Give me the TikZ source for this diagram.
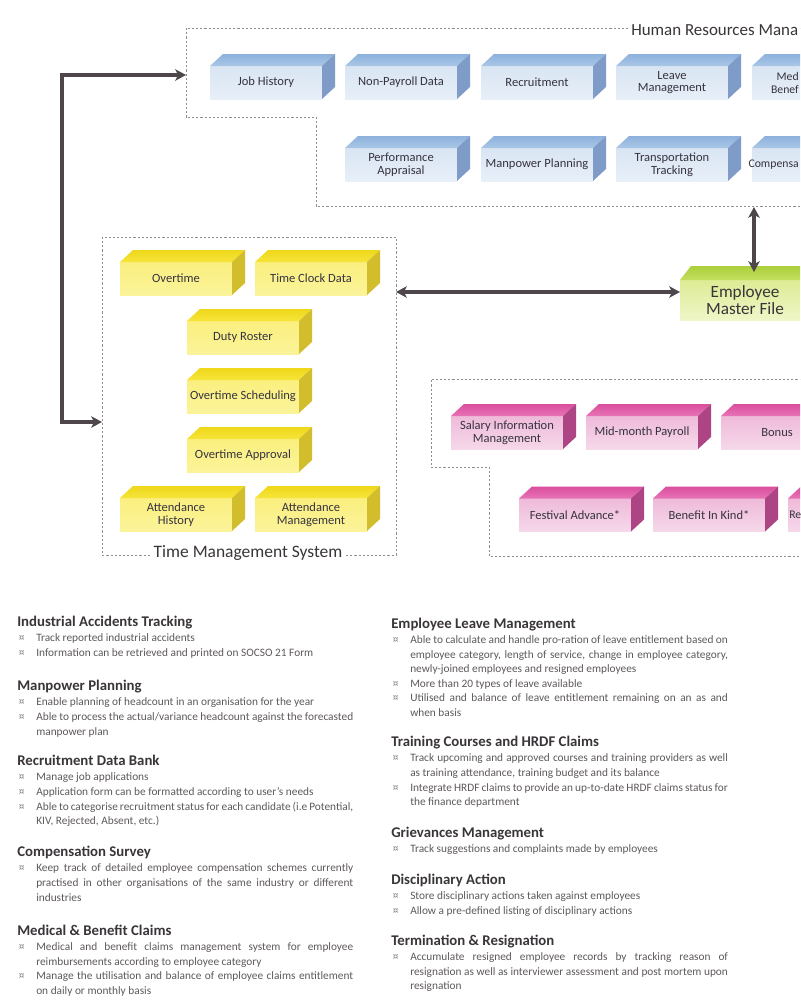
\documentclass[tikz,border=0pt]{standalone}
\usepackage{fontspec}
\setmainfont{Carlito}
\usetikzlibrary{calc,arrows.meta}

\definecolor{hrfrontA}{HTML}{D9E5F3}
\definecolor{hrfrontB}{HTML}{E7EFF8}
\definecolor{hrtopA}{HTML}{8DB1DC}
\definecolor{hrtopB}{HTML}{AAC7E7}
\definecolor{hrside}{HTML}{7E9CC7}
\definecolor{tmfrontA}{HTML}{FAEF7E}
\definecolor{tmfrontB}{HTML}{FBF39A}
\definecolor{tmtopA}{HTML}{EFD81A}
\definecolor{tmtopB}{HTML}{F6E43A}
\definecolor{tmside}{HTML}{D2BE2C}
\definecolor{payfrontA}{HTML}{EEBAD9}
\definecolor{payfrontB}{HTML}{F6D8EA}
\definecolor{paytopA}{HTML}{D94E9E}
\definecolor{paytopB}{HTML}{E873B6}
\definecolor{payside}{HTML}{AD4585}
\definecolor{emffrontA}{HTML}{DDEC95}
\definecolor{emffrontB}{HTML}{EFF6C8}
\definecolor{emftopA}{HTML}{ABCF3C}
\definecolor{emftopB}{HTML}{C3DF5E}
\definecolor{boxtxt}{HTML}{36333F}
\definecolor{headtxt}{HTML}{3A3539}
\definecolor{bodytxt}{HTML}{5E595C}
\definecolor{bullgray}{HTML}{858083}
\definecolor{framegray}{HTML}{8E8E8E}
\definecolor{linkgray}{HTML}{4E464B}

\newcommand{\headline}[1]{{\fontsize{11.1}{13}\selectfont\bfseries\rule{0pt}{11pt}\color{headtxt}#1\par}\vspace{0.3pt}}
\newcommand{\bitem}[1]{\hangindent=14.25pt\hangafter=1\noindent\makebox[14.25pt][l]{\hspace*{1.2pt}\textcolor{bullgray}{¤}}#1\par}

\begin{document}
\begin{tikzpicture}[x=0.75pt,y=-0.75pt,
  cube/.style={minimum width=84pt,minimum height=24.75pt,inner sep=1pt,outer sep=0pt,align=center,font=\fontsize{9.4}{9.6}\selectfont,text=boxtxt},
  hrcube/.style={cube,top color=hrfrontA,bottom color=hrfrontB},
  tmcube/.style={cube,top color=tmfrontA,bottom color=tmfrontB},
  paycube/.style={cube,top color=payfrontA,bottom color=payfrontB},
  cubetxt/.style={inner sep=0pt,anchor=east,align=right,font=\fontsize{8.8}{9.6}\selectfont,text=boxtxt},
  frame/.style={draw=framegray,line width=0.75pt,dash pattern=on 1.6pt off 1.5pt},
  frametitle/.style={fill=white,inner xsep=2.25pt,inner ysep=1pt,font=\fontsize{13.1}{14}\selectfont,text=headtxt},
  link/.style={draw=linkgray,line width=3pt,{Stealth[length=8pt,width=8.5pt,inset=2pt]}-{Stealth[length=8pt,width=8.5pt,inset=2pt]}},
  notes/.style={anchor=north west,inner sep=0pt,text width=252pt,align=justify,text=bodytxt,
    font={\fontsize{8.5}{10.95}\selectfont\hyphenpenalty=10000\tolerance=3000\parskip=0pt}}]

\useasboundingbox (0,0) rectangle (800,1007);
\clip (0,0) rectangle (800,1007);
\fill[white] (0,0) rectangle (800,1007);

\draw[frame] (810,28) -- (186,28) -- (186,117) -- (316,117) -- (316,206) -- (810,206);
\draw[frame] (102,237) rectangle (396,555);
\draw[frame] (810,379) -- (431,379) -- (431,467) -- (489,467) -- (489,556) -- (810,556);

\node[frametitle,anchor=west,font=\fontsize{12.7}{14}\selectfont] (hrtitle) at (628,30) {Human Resources Mana};
\node[frametitle] (tmtitle) at (248,553) {Time Management System};

\node[hrcube] (jobhist) at (266,82.5) {Job History};
\node[hrcube] (nonpay) at (401,82.5) {Non-Payroll Data};
\node[hrcube] (recruit) at (537,82.5) {Recruitment};
\node[hrcube] (leavemgmt) at (672,82.5) {Leave\\Management};
\node[hrcube] (medben) at (808,82.5) {};
\node[hrcube] (perfapp) at (401,164.5) {Performance\\Appraisal};
\node[hrcube] (manpow) at (537,164.5) {Manpower Planning};
\node[hrcube] (transp) at (672,164.5) {Transportation\\Tracking};
\node[hrcube] (compens) at (808,164.5) {};
\node[cubetxt] (medbentxt) at (799,83) {Med\\Benef};
\node[cubetxt] (compenstxt) at (799,165) {Compensa};

\foreach \n in {jobhist,nonpay,recruit,leavemgmt,medben,perfapp,manpow,transp,compens}{
  \shade[top color=hrtopA,bottom color=hrtopB] (\n.north west) -- ++(13,-12) -- ($(\n.north east)+(13,-12)$) -- (\n.north east) -- cycle;
  \fill[hrside] (\n.north east) -- ++(13,-12) -- ($(\n.south east)+(13,-12)$) -- (\n.south east) -- cycle;
}

\node[tmcube] (overtime) at (176,278.5) {Overtime};
\node[tmcube] (clockdata) at (311,278.5) {Time Clock Data};
\node[tmcube] (dutyroster) at (243,337.5) {Duty Roster};
\node[tmcube] (otsched) at (243,396.5) {Overtime Scheduling};
\node[tmcube] (otapprov) at (243,455.5) {Overtime Approval};
\node[tmcube] (atthist) at (176,514.5) {Attendance\\History};
\node[tmcube] (attmgmt) at (311,514.5) {Attendance\\Management};

\foreach \n in {overtime,clockdata,dutyroster,otsched,otapprov,atthist,attmgmt}{
  \shade[top color=tmtopA,bottom color=tmtopB] (\n.north west) -- ++(13,-12) -- ($(\n.north east)+(13,-12)$) -- (\n.north east) -- cycle;
  \fill[tmside] (\n.north east) -- ++(13,-12) -- ($(\n.south east)+(13,-12)$) -- (\n.south east) -- cycle;
}

\node[paycube] (salinfo) at (507,432.5) {Salary Information\\Management};
\node[paycube] (midmonth) at (642,432.5) {Mid-month Payroll};
\node[paycube] (bonus) at (777,432.5) {Bonus};
\node[paycube] (festadv) at (575,515) {Festival Advance*};
\node[paycube] (bik) at (709,515) {Benefit In Kind*};
\node[paycube] (payre) at (844,515) {};
\node[cubetxt,anchor=west] (payretxt) at (789,515) {Re};

\foreach \n in {salinfo,midmonth,bonus,festadv,bik,payre}{
  \shade[top color=paytopA,bottom color=paytopB] (\n.north west) -- ++(13,-12) -- ($(\n.north east)+(13,-12)$) -- (\n.north east) -- cycle;
  \fill[payside] (\n.north east) -- ++(13,-12) -- ($(\n.south east)+(13,-12)$) -- (\n.south east) -- cycle;
}

\node[cube,minimum width=97.5pt,minimum height=30pt,top color=emffrontA,bottom color=emffrontB,
  font=\fontsize{12.9}{12.8}\selectfont,text=headtxt] (empmaster) at (745,300) {Employee\\Master File};
\shade[top color=emftopA,bottom color=emftopB] (empmaster.north west) -- ++(11,-14) -- ($(empmaster.north east)+(11,-14)$) -- (empmaster.north east) -- cycle;

\coordinate (hrleft) at (186,75);
\coordinate (bend) at (62,75);
\coordinate (tmleft) at (102,422);
\coordinate (tmright) at (396,292);
\coordinate (hrbase) at (754,207);
\coordinate (emftop) at (754,272);

\draw[link] (hrleft) -- (bend) |- (tmleft);
\draw[link] (tmright) -- (tmright -| empmaster.west);
\draw[link] (hrbase) -- (emftop);

\node[notes] (indacc) at (17,612) {\headline{Industrial Accidents Tracking}
  \bitem{Track reported industrial accidents}
  \bitem{Information can be retrieved and printed on SOCSO 21 Form}};
\node[notes] (manplan) at (17,676) {\headline{Manpower Planning}
  \bitem{Enable planning of headcount in an organisation for the year}
  \bitem{Able to process the actual/variance headcount against the forecasted manpower plan}};
\node[notes] (recbank) at (17,751) {\headline{Recruitment Data Bank}
  \bitem{Manage job applications}
  \bitem{Application form can be formatted according to user’s needs}
  \bitem{Able to categorise recruitment status for each candidate (i.e Potential, KIV, Rejected, Absent, etc.)}};
\node[notes] (compsurv) at (17,842) {\headline{Compensation Survey}
  \bitem{Keep track of detailed employee compensation schemes currently practised in other organisations of the same industry or different industries}};
\node[notes] (medclaim) at (17,920.5) {\headline{Medical \& Benefit Claims}
  \bitem{Medical and benefit claims management system for employee reimbursements according to employee category}
  \bitem{Manage the utilisation and balance of employee claims entitlement on daily or monthly basis}};

\node[notes,text width=252.5pt] (leaveman) at (391,613.5) {\headline{Employee Leave Management}
  \bitem{Able to calculate and handle pro-ration of leave entitlement based on employee category, length of service, change in employee category, newly-joined employees and resigned employees}
  \bitem{More than 20 types of leave available}
  \bitem{Utilised and balance of leave entitlement remaining on an as and\linebreak when basis}};
\node[notes,text width=252.5pt] (training) at (391,732) {\headline{Training Courses and HRDF Claims}
  \bitem{Track upcoming and approved courses and training providers as well as training attendance, training budget and its balance}
  \bitem{Integrate HRDF claims to provide an up-to-date HRDF claims status for the finance department}};
\node[notes,text width=252.5pt] (grievance) at (391,822.5) {\headline{Grievances Management}
  \bitem{Track suggestions and complaints made by employees}};
\node[notes,text width=252.5pt] (discipline) at (391,869.5) {\headline{Disciplinary Action}
  \bitem{Store disciplinary actions taken against employees}
  \bitem{Allow a pre-defined listing of disciplinary actions}};
\node[notes,text width=252.5pt] (terminate) at (391,930.5) {\headline{Termination \& Resignation}
  \bitem{Accumulate resigned employee records by tracking reason of resignation as well as interviewer assessment and post mortem upon resignation}};

\end{tikzpicture}
\end{document}
